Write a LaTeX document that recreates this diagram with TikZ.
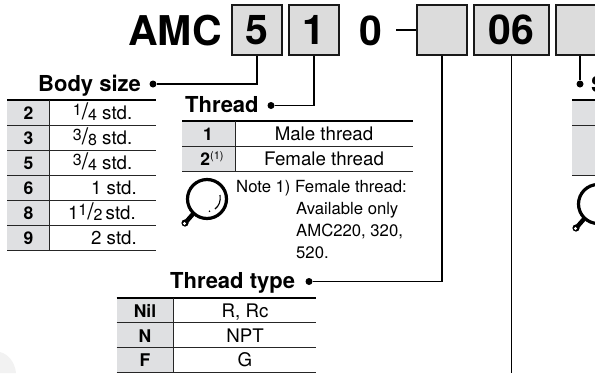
\documentclass[tikz,border=0pt]{standalone}
\usepackage{fontspec}
\setmainfont{TeX Gyre Heros}
\usepackage{tikz}
\usetikzlibrary{arrows.meta,calc,positioning}
\definecolor{codegray}{RGB}{220,220,220}
\definecolor{keygray}{RGB}{223,224,226}
\newcommand{\stdfrac}[2]{{\fontsize{16}{16}\selectfont\raisebox{4pt}{#1}}{\fontsize{23}{23}\selectfont/}{\fontsize{16}{16}\selectfont\raisebox{-1.5pt}{#2}}}
\tikzset{
 codebox/.style={draw=black!90,fill=codegray,line width=1.6pt,inner sep=0pt,minimum height=50pt,font=\fontsize{41}{41}\selectfont\bfseries},
 bigtext/.style={anchor=base,inner sep=0pt,font=\fontsize{41}{41}\selectfont\bfseries},
 headtext/.style={anchor=base west,inner sep=0pt,font=\fontsize{22}{24}\selectfont\bfseries},
 keytext/.style={anchor=base,inner sep=0pt,font=\fontsize{17.5}{20}\selectfont\bfseries},
 valtext/.style={anchor=base,inner sep=0pt,font=\fontsize{18.7}{20}\selectfont},
 notetext/.style={anchor=base west,inner sep=0pt,font=\fontsize{16.7}{18}\selectfont},
 leader/.style={line width=1.8pt,black},
 leaderdot/.style={circle,fill=black,inner sep=0pt,minimum size=7pt},
 toprule/.style={line width=1.7pt,black},
 midrule/.style={line width=.9pt,black!85},
 loupe/.pic={
  \draw[line width=3.2pt] (0,0) circle (19.5);
  \draw[line width=4.4pt] (-14,15)--(-21,23);
  \fill[black] (-22,24) circle (3.6);
  \fill[white] (-22.5,24.5) circle (1.6);
  \draw[line width=1.1pt] (13,-4) .. controls (14,2) and (12,7) .. (8,10);
  \fill (2.5,12.3) circle (.9);
 }
}
\begin{document}
\begin{tikzpicture}[x=1pt,y=-1pt,>=Stealth,line join=miter]
 \useasboundingbox (0,0) rectangle (595,373);
 \clip (0,0) rectangle (595,373);
 % faint part photo in the corner
 \fill[black!5] (0,352) .. controls (8,354) and (15,362) .. (16,373) -- (0,373) -- cycle;
 % model code
 \node[bigtext] (amc) at (175,45) {AMC};
 \node[codebox,minimum width=50pt] (boxbody) at (257,30) {5};
 \node[codebox,minimum width=50pt] (boxthread) at (314,30) {1};
 \node[bigtext] (zero) at (371,45) {0};
 \node[codebox,minimum width=50pt] (boxtype) at (442,30) {};
 \node[codebox,minimum width=75pt] (boxmodel) at (511.5,30) {06};
 \node[codebox,minimum width=60pt] (boxsemi) at (586,30) {};
 \coordinate (dashstart) at (396,30);
 \draw[line width=2.5pt] (dashstart)--(boxtype.west);
 % body size
 \node[headtext] (headbody) at (38,91.5) {Body size};
 \node[leaderdot] (dotbody) at (153,84) {};
 \draw[leader] (dotbody)-|(boxbody.south);
 \fill[keygray] (7,100) rectangle (49.5,250);
 \foreach \y in {125.5,150,175.5,200.5,225,250}
  \draw[midrule] (7,\y)--(156,\y);
 \draw[toprule] (7,100)--(156,100);
 \draw[midrule] (49.5,100)--(49.5,250);
 \foreach \y/\k/\v/\xe [count=\i] in {119/2/{\stdfrac{1}{4} std.}/132.5,
   144/3/{\stdfrac{3}{8} std.}/132.5,169/5/{\stdfrac{3}{4} std.}/132.5,
   194/6/{1 std.}/137,219/8/{1\stdfrac{1}{2}\,std.}/136,244/9/{2 std.}/137}{
  \node[keytext] (bodykey\i) at (28.5,\y) {\k};
  \node[valtext,anchor=base east] (bodyval\i) at (\xe,\y) {\v};
 }
 % thread
 \node[headtext] (headthread) at (185,112) {Thread};
 \node[leaderdot] (dotthread) at (271,105.5) {};
 \draw[leader] (dotthread)-|(boxthread.south);
 \fill[keygray] (182,121) rectangle (235,171);
 \draw[midrule] (182,146)--(413,146);
 \draw[midrule] (182,171)--(413,171);
 \draw[toprule] (182,121)--(413,121);
 \draw[midrule] (235,121)--(235,171);
 \node[keytext] (threadkey1) at (208,140) {1};
 \node[keytext] (threadkey2) at (212,165) {2\raisebox{6pt}{\fontsize{11}{11}\selectfont\mdseries (1)}};
 \node[valtext] (threadval1) at (324,140) {Male thread};
 \node[valtext] (threadval2) at (324,165) {Female thread};
 % note
 \pic at (207,199) {loupe};
 \node[notetext] (note1) at (236,192) {Note 1) Female thread:};
 \node[notetext] (note2) at (296,214) {Available only};
 \node[notetext] (note3) at (296,236) {AMC220, 320,};
 \node[notetext] (note4) at (296,258) {520.};
 % thread type
 \node[headtext] (headtype) at (170,288) {Thread type};
 \node[leaderdot] (dottype) at (309,281.5) {};
 \draw[leader] (dottype)-|(boxtype.south);
 \fill[keygray] (116.5,298) rectangle (173,372);
 \draw[midrule] (116.5,322.7)--(316,322.7);
 \draw[midrule] (116.5,347.5)--(316,347.5);
 \draw[midrule] (116.5,372)--(316,372);
 \draw[toprule] (116.5,298)--(316,298);
 \draw[midrule] (173,298)--(173,372);
 \foreach \y/\k/\v [count=\i] in {317/Nil/{R, Rc},342/N/NPT,366.5/F/G}{
  \node[keytext] (typekey\i) at (145,\y) {\k};
  \node[valtext] (typeval\i) at (245,\y) {\v};
 }
 % body length line
 \coordinate (endmodel) at (511.5,373);
 \draw[leader] (boxmodel.south)--(endmodel);
 % cut off part on the right
 \node[leaderdot] (dotsemi) at (580,84) {};
 \draw[leader] (dotsemi)--(dotsemi|-boxsemi.south);
 \node[headtext] (headsemi) at (591,92) {S};
 \fill[keygray] (572,100) rectangle (595,175.5);
 \draw[midrule] (572,125.5)--(595,125.5);
 \draw[midrule] (572,175.5)--(595,175.5);
 \draw[toprule] (572,100)--(595,100);
 \pic at (598,204) {loupe};
\end{tikzpicture}
\end{document}
